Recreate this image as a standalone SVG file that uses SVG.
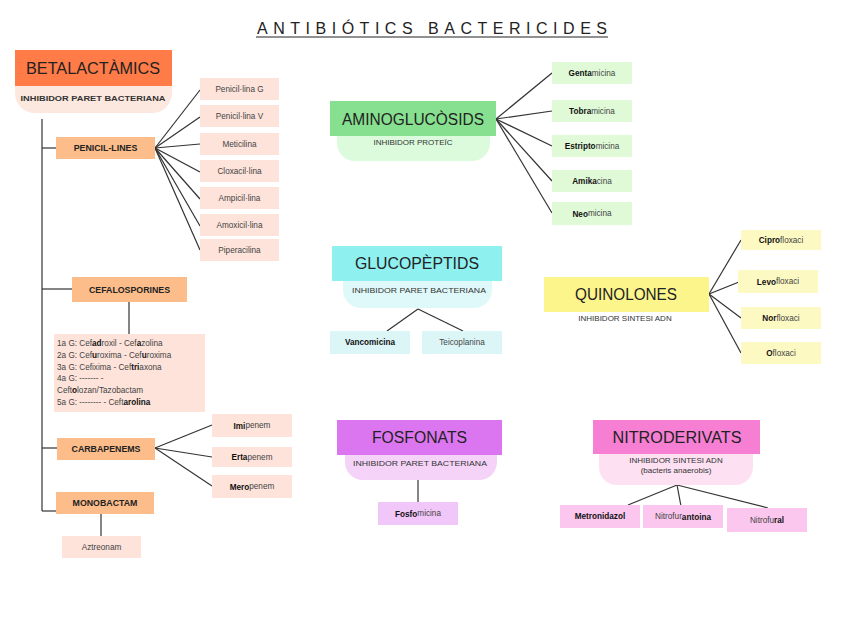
<svg xmlns="http://www.w3.org/2000/svg" width="848" height="636" viewBox="0 0 848 636">
<style>
text{font-family:"Liberation Sans","DejaVu Sans",sans-serif;fill:#222;text-anchor:middle;dominant-baseline:central}
.hd{font-size:16px}
.sub{font-size:8px;fill:#333}
.cat{font-size:8.8px;font-weight:bold}
.ch{font-size:8.2px;fill:#444}
.b{font-weight:bold;fill:#111}
.cn line,.cn path{stroke:#333;stroke-width:1.2;fill:none}
</style>
<rect width="848" height="636" fill="#fff"/>
<g id="title">
<text x="432" y="28" font-size="16" textLength="350" lengthAdjust="spacing">ANTIBIÓTICS BACTERICIDES</text>
<line x1="256" y1="37" x2="608" y2="37" stroke="#222" stroke-width="1"/>
</g>
<g class="cn" id="connectors">
<line x1="42" y1="119" x2="42" y2="511"/>
<line x1="42" y1="148" x2="56" y2="148"/>
<line x1="42" y1="289" x2="72" y2="289"/>
<line x1="42" y1="448" x2="57" y2="448"/>
<line x1="42" y1="511" x2="56" y2="511"/>
<line x1="155" y1="148" x2="200" y2="90"/>
<line x1="155" y1="148" x2="200" y2="117"/>
<line x1="155" y1="148" x2="200" y2="144"/>
<line x1="155" y1="148" x2="200" y2="172"/>
<line x1="155" y1="148" x2="200" y2="199"/>
<line x1="155" y1="148" x2="200" y2="226"/>
<line x1="155" y1="148" x2="200" y2="250"/>
<line x1="129" y1="302" x2="129" y2="334"/>
<line x1="155" y1="448" x2="212" y2="425"/>
<line x1="155" y1="448" x2="212" y2="457"/>
<line x1="155" y1="448" x2="212" y2="486"/>
<line x1="101" y1="514" x2="101" y2="536"/>
<line x1="496" y1="119" x2="552" y2="73"/>
<line x1="496" y1="119" x2="552" y2="111"/>
<line x1="496" y1="119" x2="552" y2="146"/>
<line x1="496" y1="119" x2="552" y2="181"/>
<line x1="496" y1="119" x2="552" y2="213"/>
<line x1="418" y1="309" x2="387" y2="331"/>
<line x1="418" y1="309" x2="463" y2="331"/>
<line x1="709" y1="294" x2="741" y2="240"/>
<line x1="709" y1="294" x2="739" y2="282"/>
<line x1="709" y1="294" x2="741" y2="318"/>
<line x1="709" y1="294" x2="741" y2="353"/>
<line x1="418" y1="480" x2="418" y2="502"/>
<line x1="677" y1="485" x2="628" y2="505"/>
<line x1="677" y1="485" x2="681" y2="506"/>
<line x1="677" y1="485" x2="768" y2="508"/>
</g>
<g id="betalactamics">
<path d="M15 86H172V93A20 20 0 0 1 152 113H35A20 20 0 0 1 15 93Z" fill="#fde8df"/>
<rect x="15" y="50" width="157" height="36" fill="#ff7b47"/>
<text class="hd" x="93" y="68" textLength="134" lengthAdjust="spacingAndGlyphs">BETALACTÀMICS</text>
<text class="sub" x="93" y="98" font-weight="bold" textLength="145" lengthAdjust="spacingAndGlyphs">INHIBIDOR PARET BACTERIANA</text>
</g>
<g id="penicillines"><rect x="56" y="137" width="99" height="22" fill="#fdbd8b"/><text class="cat" x="105.5" y="148">PENICIL-LINES</text></g>
<g id="penG"><rect x="200" y="78" width="79" height="22" fill="#fde3da"/><text class="ch" x="239.5" y="89">Penicil·lina G</text></g>
<g id="penV"><rect x="200" y="105" width="79" height="22" fill="#fde3da"/><text class="ch" x="239.5" y="116">Penicil·lina V</text></g>
<g id="meticilina"><rect x="200" y="133" width="79" height="22" fill="#fde3da"/><text class="ch" x="239.5" y="144">Meticilina</text></g>
<g id="cloxacillina"><rect x="200" y="160" width="79" height="22" fill="#fde3da"/><text class="ch" x="239.5" y="171">Cloxacil·lina</text></g>
<g id="ampicillina"><rect x="200" y="187" width="79" height="22" fill="#fde3da"/><text class="ch" x="239.5" y="198">Ampicil·lina</text></g>
<g id="amoxicillina"><rect x="200" y="214" width="79" height="22" fill="#fde3da"/><text class="ch" x="239.5" y="225">Amoxicil·lina</text></g>
<g id="piperacilina"><rect x="200" y="239" width="79" height="22" fill="#fde3da"/><text class="ch" x="239.5" y="250">Piperacilina</text></g>
<g id="cefalosporines"><rect x="72" y="277" width="115" height="25" fill="#fdbd8b"/><text class="cat" x="129.5" y="289.5">CEFALOSPORINES</text></g>
<g id="cefalist">
<rect x="54" y="334" width="151" height="78" fill="#fde3da"/>
<text class="ch" x="57" y="343" style="text-anchor:start">1a G: Cef<tspan class="b">ad</tspan>roxil - Cef<tspan class="b">a</tspan>zolina</text>
<text class="ch" x="57" y="355" style="text-anchor:start">2a G: Cef<tspan class="b">u</tspan>roxima - Cef<tspan class="b">u</tspan>roxima</text>
<text class="ch" x="57" y="367" style="text-anchor:start">3a G: Cefixima - Cef<tspan class="b">tri</tspan>axona</text>
<text class="ch" x="57" y="378" style="text-anchor:start">4a G: ------- -</text>
<text class="ch" x="57" y="390" style="text-anchor:start">Ceft<tspan class="b">o</tspan>lozan/Tazobactam</text>
<text class="ch" x="57" y="402" style="text-anchor:start">5a G: -------- - Ceft<tspan class="b">arolina</tspan></text>
</g>
<g id="carbapenems"><rect x="57" y="438" width="98" height="22" fill="#fdbd8b"/><text class="cat" x="106" y="449">CARBAPENEMS</text></g>
<g id="imipenem"><rect x="212" y="414" width="80" height="23" fill="#fde3da"/><text class="ch" x="252" y="425.5"><tspan class="b">Imi</tspan>penem</text></g>
<g id="ertapenem"><rect x="212" y="447" width="80" height="20" fill="#fde3da"/><text class="ch" x="252" y="457"><tspan class="b">Erta</tspan>penem</text></g>
<g id="meropenem"><rect x="212" y="475" width="80" height="23" fill="#fde3da"/><text class="ch" x="252" y="486.5"><tspan class="b">Mero</tspan>penem</text></g>
<g id="monobactam"><rect x="56" y="492" width="98" height="22" fill="#fdbd8b"/><text class="cat" x="105" y="503">MONOBACTAM</text></g>
<g id="aztreonam"><rect x="62" y="536" width="79" height="22" fill="#fde3da"/><text class="ch" x="101.5" y="547">Aztreonam</text></g>
<g id="aminoglucosids">
<path d="M337 136H490V143A18 18 0 0 1 472 161H355A18 18 0 0 1 337 143Z" fill="#dbfbdc"/>
<rect x="330" y="101" width="166" height="35" fill="#86e08f"/>
<text class="hd" x="413" y="119" textLength="142" lengthAdjust="spacingAndGlyphs">AMINOGLUCÒSIDS</text>
<text class="sub" x="413" y="142">INHIBIDOR PROTEÏC</text>
</g>
<g id="gentamicina"><rect x="552" y="62" width="80" height="22" fill="#e0fad8"/><text class="ch" x="592" y="73"><tspan class="b">Genta</tspan>micina</text></g>
<g id="tobramicina"><rect x="552" y="100" width="80" height="22" fill="#e0fad8"/><text class="ch" x="592" y="111"><tspan class="b">Tobra</tspan>micina</text></g>
<g id="estriptomicina"><rect x="552" y="135" width="80" height="22" fill="#e0fad8"/><text class="ch" x="592" y="146"><tspan class="b">Estripto</tspan>micina</text></g>
<g id="amikacina"><rect x="552" y="170" width="80" height="22" fill="#e0fad8"/><text class="ch" x="592" y="181"><tspan class="b">Amika</tspan>cina</text></g>
<g id="neomicina"><rect x="552" y="202" width="80" height="23" fill="#e0fad8"/><text class="ch" x="592" y="213.5"><tspan class="b">Neo</tspan>micina</text></g>
<g id="glucopeptids">
<path d="M343 281H492V290A18 18 0 0 1 474 308H361A18 18 0 0 1 343 290Z" fill="#dff9fa"/>
<rect x="332" y="246" width="170" height="35" fill="#8ff0f0"/>
<text class="hd" x="417" y="263.5" textLength="124" lengthAdjust="spacingAndGlyphs">GLUCOPÈPTIDS</text>
<text class="sub" x="419" y="290" textLength="134" lengthAdjust="spacingAndGlyphs">INHIBIDOR PARET BACTERIANA</text>
</g>
<g id="vancomicina"><rect x="330" y="331" width="80" height="23" fill="#dcf6f8"/><text class="ch b" x="370" y="342.5">Vancomicina</text></g>
<g id="teicoplanina"><rect x="422" y="331" width="80" height="23" fill="#dcf6f8"/><text class="ch" x="462" y="342.5">Teicoplanina</text></g>
<g id="quinolones">
<rect x="544" y="277" width="165" height="35" fill="#fbf58c"/>
<text class="hd" x="626" y="294.5" textLength="102" lengthAdjust="spacingAndGlyphs">QUINOLONES</text>
<text class="sub" x="625" y="318">INHIBIDOR SINTESI ADN</text>
</g>
<g id="ciprofloxaci"><rect x="741" y="230" width="80" height="20" fill="#fdf9c3"/><text class="ch" x="781" y="240"><tspan class="b">Cipro</tspan>floxaci</text></g>
<g id="levofloxaci"><rect x="738" y="270" width="80" height="23" fill="#fdf9c3"/><text class="ch" x="778" y="281.5"><tspan class="b">Levo</tspan>floxaci</text></g>
<g id="norfloxaci"><rect x="741" y="307" width="80" height="22" fill="#fdf9c3"/><text class="ch" x="781" y="318"><tspan class="b">Nor</tspan>floxaci</text></g>
<g id="ofloxaci"><rect x="741" y="342" width="80" height="22" fill="#fdf9c3"/><text class="ch" x="781" y="353"><tspan class="b">O</tspan>floxaci</text></g>
<g id="fosfonats">
<path d="M345 455H497V462A18 18 0 0 1 479 480H363A18 18 0 0 1 345 462Z" fill="#f5d3f9"/>
<rect x="337" y="420" width="165" height="35" fill="#dc76f0"/>
<text class="hd" x="419.5" y="437.5" textLength="95" lengthAdjust="spacingAndGlyphs">FOSFONATS</text>
<text class="sub" x="420" y="463" textLength="134" lengthAdjust="spacingAndGlyphs">INHIBIDOR PARET BACTERIANA</text>
</g>
<g id="fosfomicina"><rect x="378" y="502" width="80" height="23" fill="#f1c6f8"/><text class="ch" x="418" y="513.5"><tspan class="b">Fosfo</tspan>micina</text></g>
<g id="nitroderivats">
<path d="M599 454H753V467A18 18 0 0 1 735 485H617A18 18 0 0 1 599 467Z" fill="#fde0f2"/>
<rect x="593" y="420" width="167" height="34" fill="#f67fd4"/>
<text class="hd" x="677" y="437" textLength="129" lengthAdjust="spacingAndGlyphs">NITRODERIVATS</text>
<text class="sub" x="676" y="460">INHIBIDOR SINTESI ADN</text>
<text class="sub" x="676" y="470">(bacteris anaerobis)</text>
</g>
<g id="metronidazol"><rect x="560" y="505" width="80" height="23" fill="#fbc7ee"/><text class="ch b" x="600" y="516.5">Metronidazol</text></g>
<g id="nitrofurantoina"><rect x="643" y="505" width="80" height="23" fill="#fbc7ee"/><text class="ch" x="683" y="516.5">Nitrofur<tspan class="b">antoina</tspan></text></g>
<g id="nitrofural"><rect x="727" y="508" width="80" height="24" fill="#fbc7ee"/><text class="ch" x="767" y="520">Nitrofu<tspan class="b">ral</tspan></text></g>
</svg>
